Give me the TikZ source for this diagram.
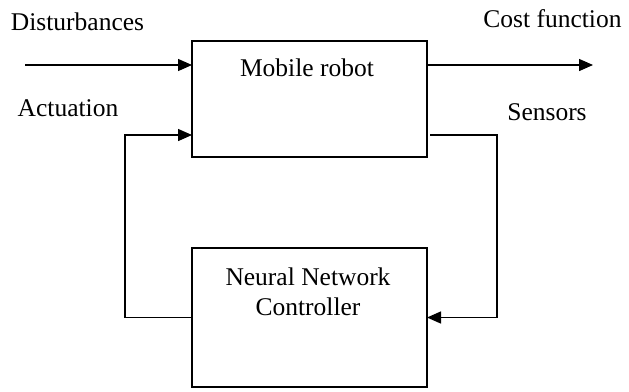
\documentclass[tikz,border=0pt]{standalone}
\usepackage{fontspec}
\setmainfont{Liberation Serif}
\usetikzlibrary{arrows.meta}
\begin{document}
\begin{tikzpicture}[x=1pt,y=-1pt, line width=1.4pt,
  blk/.style={draw, minimum width=235pt, inner sep=0pt, outer sep=0pt},
  lbl/.style={font=\fontsize{25.5}{30}\selectfont, inner sep=0pt, anchor=base},
  arr/.style={-{Triangle[length=14pt,width=12pt]}}]
\useasboundingbox (0,0) rectangle (629,391);
% blocks
\node[blk, minimum height=116pt] (robot) at (309.5,99) {};
\node[blk, minimum height=139pt] (nn) at (309.5,317.5) {};
% block texts
\node[lbl] (robottxt) at (307,76) {Mobile robot};
\node[lbl] (nntxt1) at (308,285) {Neural Network};
\node[lbl] (nntxt2) at (308,315) {Controller};
% outside labels
\node[lbl] (dist) at (77.5,30) {Disturbances};
\node[lbl] (act) at (68,116) {Actuation};
\node[lbl] (cost) at (552.5,27) {Cost function};
\node[lbl] (sens) at (547,120) {Sensors};
% connector coordinates
\coordinate (din) at (25,65);
\coordinate (dend) at (robot.west |- din);
\coordinate (acorner) at (125,135);
\coordinate (aend) at (robot.west |- acorner);
\coordinate (abottom) at (acorner |- nn.west);
\coordinate (oout) at (robot.east |- din);
\coordinate (cend) at (593,65);
\coordinate (sstart) at (430,135);
\coordinate (scorner) at (497,135);
\coordinate (sbottom) at (scorner |- nn.east);
% connectors
\draw[arr] (din) -- (dend);
\draw[arr] (oout) -- (cend);
\draw[arr] (nn.west) -- (abottom) -- (acorner) -- (aend);
\draw[arr] (sstart) -- (scorner) -- (sbottom) -- (nn.east);
\end{tikzpicture}
\end{document}
